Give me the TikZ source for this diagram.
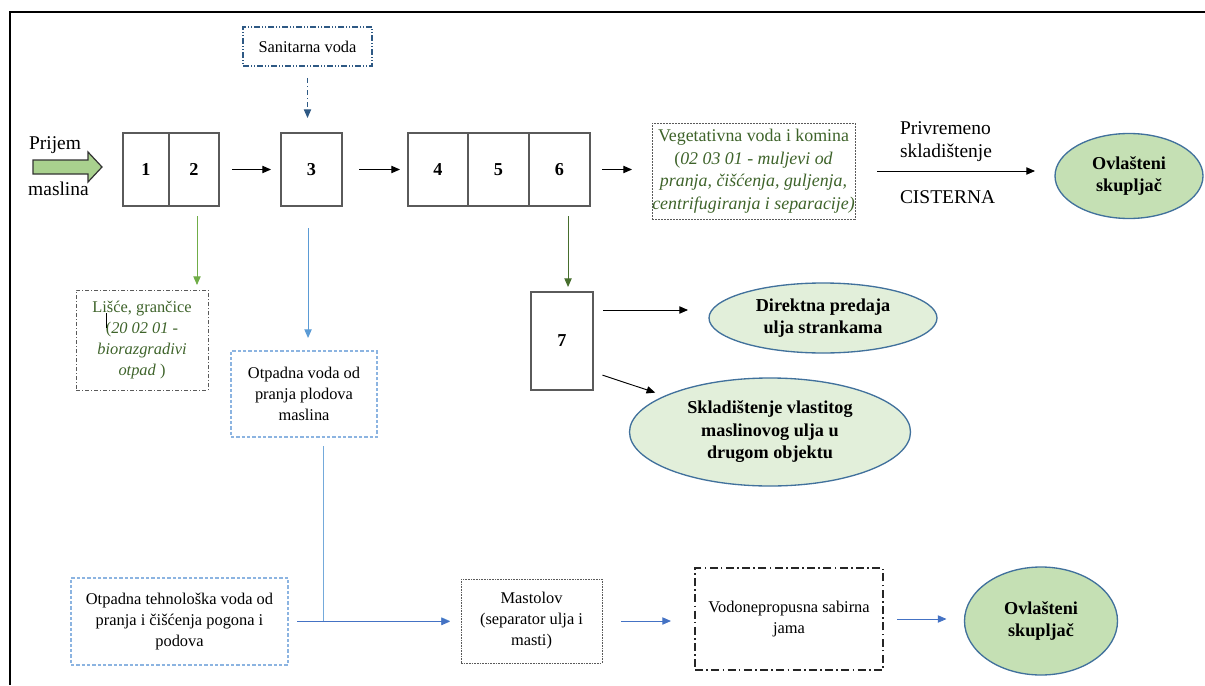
\documentclass[tikz,border=0pt]{standalone}
\usepackage{fontspec}
\setmainfont{Liberation Serif}
\usetikzlibrary{shapes.geometric,arrows.meta}
\newcommand\fsm{\fontsize{12.3}{15.75}\selectfont}
\newcommand\fveg{\fontsize{13.4}{16.9}\selectfont}
\newcommand\flg{\fontsize{14.6}{17.25}\selectfont}
\newcommand\fbd{\fontsize{13.65}{16.9}\selectfont\bfseries}
\definecolor{sanblue}{RGB}{46,89,132}
\definecolor{txtgreen}{RGB}{62,99,42}
\definecolor{lgreen}{RGB}{112,173,71}
\definecolor{dgreen}{RGB}{70,110,45}
\definecolor{lblue}{RGB}{91,155,213}
\definecolor{mblue}{RGB}{68,114,196}
\definecolor{dashblue}{RGB}{140,180,225}
\definecolor{ellfill}{RGB}{197,224,180}
\definecolor{ellfillb}{RGB}{226,239,218}
\definecolor{ellline}{RGB}{65,113,156}
\definecolor{arrfill}{RGB}{169,209,142}
\definecolor{boxgray}{RGB}{90,90,90}
\tikzset{
  every node/.style={inner sep=0pt, outer sep=0pt},
  bx/.style 2 args={minimum width=#1*0.75pt, minimum height=#2*0.75pt},
  numbox/.style={draw=boxgray, line width=0.8pt, font=\fbd},
  sanbox/.style={draw=sanblue, line width=0.8pt, font=\fsm,
     dash pattern=on 4.5pt off 1.5pt on 0.75pt off 1.5pt on 0.75pt off 1.5pt},
  vegbox/.style={draw=boxgray, line width=0.6pt, font=\fveg, text=txtgreen, align=center,
     dash pattern=on 1.5pt off 0.75pt},
  lisbox/.style={draw=boxgray, line width=0.7pt, font=\fsm, text=txtgreen, align=center,
     dash pattern=on 3pt off 1.5pt on 0.75pt off 1.5pt},
  otpbox/.style={draw=dashblue, line width=0.8pt, font=\fsm, align=center,
     dash pattern=on 2.5pt off 1.5pt},
  mastbox/.style={draw=boxgray, line width=0.6pt, font=\fsm, align=center,
     dash pattern=on 1.2pt off 0.8pt},
  vodobox/.style={draw=black!85, line width=1.1pt, font=\fsm, align=center,
     dash pattern=on 6pt off 2.5pt on 1.2pt off 2.5pt},
  ellA/.style={ellipse, draw=ellline, line width=1pt, fill=ellfill, font=\fbd, align=center},
  ellB/.style={ellipse, draw=ellline, line width=1pt, fill=ellfillb, font=\fbd, align=center},
  arr/.style={-{Triangle[length=6.5pt,width=5.5pt]}, line width=0.7pt},
  plain/.style={font=\flg, align=center},
}
\begin{document}
\begin{tikzpicture}[x=0.75pt,y=-0.75pt]
\useasboundingbox (0,0) rectangle (1205,685);
% frame
\draw[line width=1.8pt] (9,12) -- (1205,12);
\draw[line width=1.8pt] (10,12) -- (10,685);

% top row
\node[sanbox, bx={129}{39}] (san) at (307.5,46.5) {Sanitarna voda};
\node[numbox, bx={46}{73}] (n1) at (146,169.5) {1};
\node[numbox, bx={50}{73}] (n2) at (194,169.5) {2};
\node[numbox, bx={61}{73}] (n3) at (311.5,169.5) {3};
\node[numbox, bx={60}{73}] (n4) at (438,169.5) {4};
\node[numbox, bx={61}{73}] (n5) at (498.5,169.5) {5};
\node[numbox, bx={61}{73}] (n6) at (559.5,169.5) {6};
\node[vegbox, bx={203}{96}] (veg) at (753.5,171)
  {Vegetativna voda i komina\\(\textit{02 03 01 - muljevi od}\\\textit{pranja, čišćenja, guljenja,}\\\textit{centrifugiranja i separacije)}};
\node[ellA, bx={148}{85}] (ovl1) at (1129,176) {Ovlašteni\\skupljač};
\node[font=\flg, align=left, anchor=west] (priv) at (900,142) {Privremeno\\skladištenje};
\node[font=\flg, anchor=west] (cis) at (900,197) {CISTERNA};

% Prijem arrow
\node[plain] (prij) at (55,145) {Prijem};
\node[plain] (masl) at (58.5,189) {maslina};
\draw[fill=arrfill, draw=black!80, line width=0.9pt]
  (33,160) -- (88,160) -- (88,152) -- (102,167) -- (88,182) -- (88,174) -- (33,174) -- cycle;

% middle
\node[lisbox, bx={132}{100}] (lis) at (142,340)
  {Lišće, grančice\\(\textit{20 02 01 -}\\\textit{biorazgradivi}\\\textit{otpad} )};
\draw[line width=0.6pt] (106,313) -- (106,328);
\node[otpbox, bx={146}{86}] (otp1) at (304,394) {Otpadna voda od\\pranja plodova\\maslina};
\node[numbox, bx={62}{98}] (n7) at (562,341) {7};
\node[ellB, bx={228}{70}] (dir) at (823,318) {Direktna predaja\\ulja strankama};
\node[ellB, bx={281}{108}] (skl) at (770,432) {Skladištenje vlastitog\\maslinovog ulja u\\drugom objektu};

% bottom row
\node[otpbox, bx={217}{87}] (otp2) at (179.5,621.5) {Otpadna tehnološka voda od\\pranja i čišćenja pogona i\\podova};
\node[mastbox, bx={141}{84}] (mast) at (531.5,621) {Mastolov\\(separator ulja i\\masti)};
\node[vodobox, bx={188}{102}] (vodo) at (789,619) {Vodonepropusna sabirna\\jama};
\node[ellA, bx={153}{108}] (ovl2) at (1041,621) {Ovlašteni\\skupljač};

% connectors
\draw[arr, draw=sanblue, dash pattern=on 4pt off 2pt on 1pt off 2pt,
      shorten <=9pt, shorten >=11.25pt] (san.south) -- (san.south |- n3.north);
\draw[arr, shorten <=9.75pt, shorten >=7.5pt] (n2) -- (n3);
\draw[arr, shorten <=12.75pt, shorten >=6pt] (n3) -- (n4);
\draw[arr, shorten <=9pt, shorten >=15pt] (n6.east) -- (n6.east -| veg.west);
\draw[arr, shorten <=16.5pt, shorten >=15pt] (veg.east) -- (veg.east -| ovl1.west);
\draw[arr, draw=lgreen, shorten <=7.5pt, shorten >=3.75pt]
  ([xshift=2.25pt]n2.south) -- ([xshift=2.25pt]n2.south |- lis.north);
\draw[arr, draw=lblue, shorten <=16.5pt, shorten >=9.75pt]
  ([xshift=-2.6pt]n3.south) -- ([xshift=-2.6pt]n3.south |- otp1.north);
\draw[arr, draw=dgreen, shorten <=7.5pt, shorten >=3.75pt]
  ([xshift=6.4pt]n6.south) -- ([xshift=6.4pt]n6.south |- n7.north);
\draw[arr, shorten <=7.5pt, shorten >=15.75pt]
  ([yshift=23.25pt]n7.east) -- ([yshift=23.25pt]n7.east -| dir.west);
\draw[arr, shorten <=7.5pt, shorten >=8pt] ([yshift=-23.25pt]n7.east) -- (skl.161);
\draw[arr, draw=lblue!85, shorten <=6.75pt, shorten >=8.25pt]
  ([xshift=14.25pt]otp1.south) |- (mast.west);
\draw[arr, draw=mblue, shorten <=6.75pt, shorten >=8.25pt]
  (otp2.east) -- (otp2.east -| mast.west);
\draw[arr, draw=mblue, shorten <=14.25pt, shorten >=18pt]
  (mast.east) -- (mast.east -| vodo.west);
\draw[arr, draw=mblue, shorten <=10.5pt, shorten >=13.5pt]
  (vodo.east) -- (vodo.east -| ovl2.west);
\end{tikzpicture}
\end{document}
